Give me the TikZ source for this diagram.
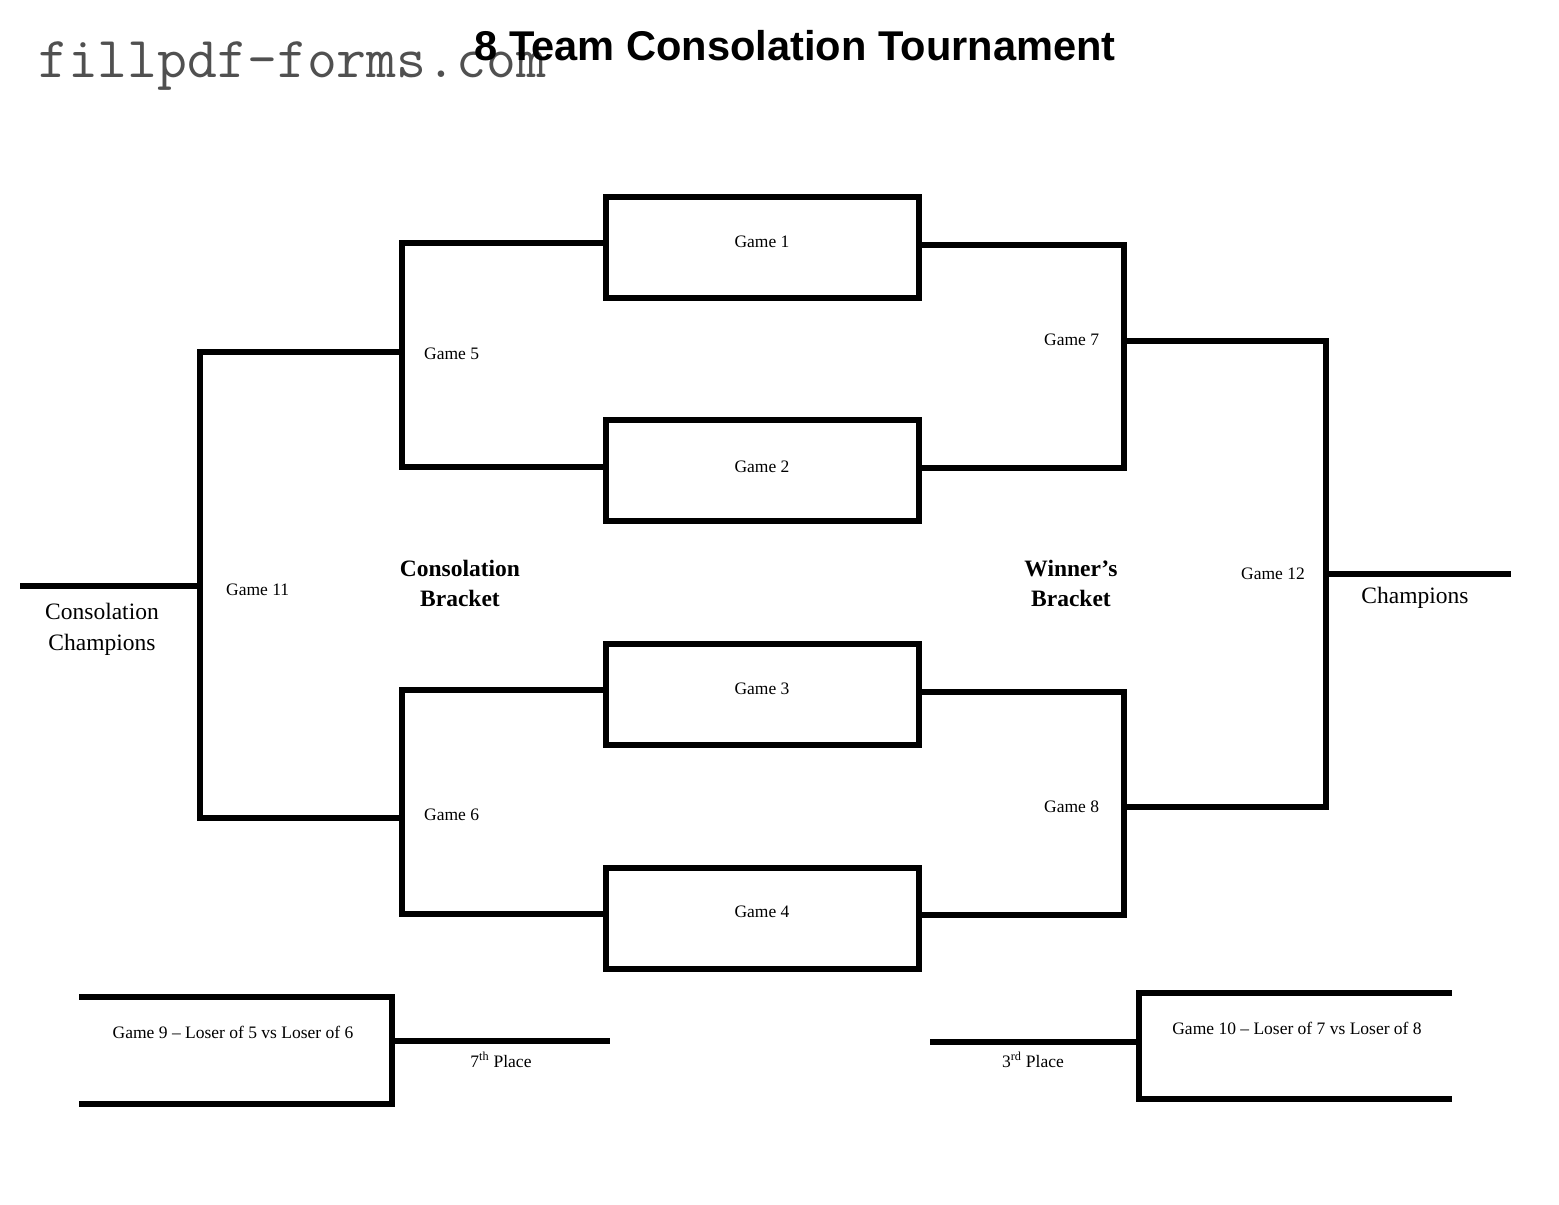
\documentclass[tikz,border=0pt]{standalone}
\usepackage{fontspec}
\setmainfont{Liberation Serif}
\newfontfamily\titlefont{Liberation Sans}
\definecolor{wmgray}{RGB}{80,80,80}
\begin{document}
\begin{tikzpicture}[x=1pt,y=-1pt,
  br/.style={line width=6pt, line join=miter, line cap=butt},
  gamebox/.style={draw, line width=6pt, minimum width=313pt, minimum height=101pt, inner sep=0pt, outer sep=0pt},
  gtext/.style={font=\fontsize{17.5}{21}\selectfont, inner sep=0pt, anchor=base},
  gltext/.style={gtext, anchor=base west},
  btext/.style={font=\fontsize{23.5}{28}\selectfont\bfseries, inner sep=0pt, anchor=base},
  ctext/.style={font=\fontsize{23.5}{28}\selectfont, inner sep=0pt, anchor=base}]
\useasboundingbox (0,0) rectangle (1559,1205);
\fill[white] (0,0) rectangle (1559,1205);

% watermark and title
\node[font=\fontsize{58}{64}\ttfamily, text=wmgray, anchor=base west, inner sep=0pt] (wm) at (38,77) {fillpdf-forms.com};
\node[font=\fontsize{41.6}{48}\titlefont\bfseries, anchor=base, inner sep=0pt] (title) at (795,60) {8 Team Consolation Tournament};

% game boxes
\node[gamebox] (g1) at (762.5,247.5) {};
\node[gamebox] (g2) at (762.5,470.5) {};
\node[gamebox] (g3) at (762.5,694.5) {};
\node[gamebox] (g4) at (762.5,918) {};
\node[gtext] (g1t) at (762,247) {Game 1};
\node[gtext] (g2t) at (762,472) {Game 2};
\node[gtext] (g3t) at (762,694) {Game 3};
\node[gtext] (g4t) at (762,917) {Game 4};

% bracket coordinates
\coordinate (a1) at (606,243);  \coordinate (a2) at (402,243);
\coordinate (a3) at (402,467);  \coordinate (a4) at (606,467);
\coordinate (b1) at (606,690);  \coordinate (b2) at (402,690);
\coordinate (b3) at (402,914);  \coordinate (b4) at (606,914);
\coordinate (m5) at (402,352);  \coordinate (m6) at (402,818);
\coordinate (c1) at (200,352);  \coordinate (c2) at (200,818);
\coordinate (m11) at (200,586); \coordinate (cc) at (20,586);

\coordinate (d1) at (919,245);  \coordinate (d2) at (1124,245);
\coordinate (d3) at (1124,468); \coordinate (d4) at (919,468);
\coordinate (e1) at (919,692);  \coordinate (e2) at (1124,692);
\coordinate (e3) at (1124,915); \coordinate (e4) at (919,915);
\coordinate (m7) at (1124,341); \coordinate (m8) at (1124,807);
\coordinate (f1) at (1326,341); \coordinate (f2) at (1326,807);
\coordinate (m12) at (1326,574); \coordinate (ch) at (1511,574);

\coordinate (h1) at (79,997);   \coordinate (h2) at (392,997);
\coordinate (h3) at (392,1104); \coordinate (h4) at (79,1104);
\coordinate (m9) at (392,1041); \coordinate (p7) at (610,1041);
\coordinate (k1) at (1452,993); \coordinate (k2) at (1139,993);
\coordinate (k3) at (1139,1099); \coordinate (k4) at (1452,1099);
\coordinate (m10) at (1139,1042); \coordinate (p3) at (930,1042);

% connectors
\draw[br] (a1) -- (a2) -- (a3) -- (a4);
\draw[br] (b1) -- (b2) -- (b3) -- (b4);
\draw[br] (m5) -- (c1) -- (c2) -- (m6);
\draw[br] (m11) -- (cc);
\draw[br] (d1) -- (d2) -- (d3) -- (d4);
\draw[br] (e1) -- (e2) -- (e3) -- (e4);
\draw[br] (m7) -- (f1) -- (f2) -- (m8);
\draw[br] (m12) -- (ch);
\draw[br] (h1) -- (h2) -- (h3) -- (h4);
\draw[br] (m9) -- (p7);
\draw[br] (k1) -- (k2) -- (k3) -- (k4);
\draw[br] (m10) -- (p3);

% labels
\node[gltext] (l5) at (424,359) {Game 5};
\node[gltext] (l6) at (424,820) {Game 6};
\node[gltext] (l7) at (1044,345) {Game 7};
\node[gltext] (l8) at (1044,812) {Game 8};
\node[gltext] (l11) at (226,595) {Game 11};
\node[gltext] (l12) at (1241,579) {Game 12};
\node[btext] (cb1) at (460,576) {Consolation};
\node[btext] (cb2) at (460,606) {Bracket};
\node[btext] (wb1) at (1071,576) {Winner’s};
\node[btext] (wb2) at (1071,606) {Bracket};
\node[ctext] (cc1) at (102,619) {Consolation};
\node[ctext] (cc2) at (102,650) {Champions};
\node[ctext] (chl) at (1415,603) {Champions};
\node[gtext] (l9) at (233,1038) {Game 9 – Loser of 5 vs Loser of 6};
\node[gtext] (l10) at (1297,1034) {Game 10 – Loser of 7 vs Loser of 8};
\node[gtext] (pl7) at (501,1067) {7\textsuperscript{th} Place};
\node[gtext] (pl3) at (1033,1067) {3\textsuperscript{rd} Place};
\end{tikzpicture}
\end{document}
